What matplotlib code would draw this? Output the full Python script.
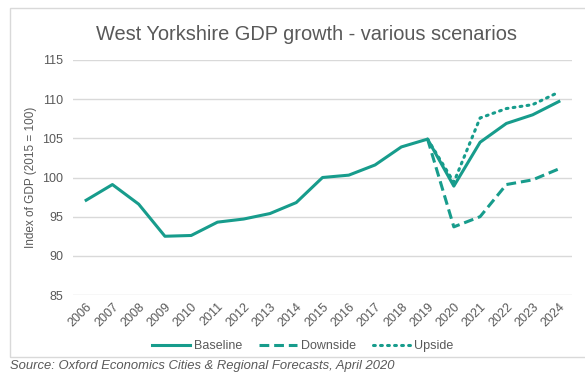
import matplotlib.pyplot as plt
from matplotlib.patches import Rectangle

# GDP index, 2015 = 100
years = [str(y) for y in range(2006, 2025)]
baseline = [97.1, 99.1, 96.6, 92.5, 92.6, 94.3, 94.7, 95.4, 96.8, 100.0,
            100.3, 101.6, 103.9, 104.9, 98.9, 104.5, 106.9, 108.0, 109.7]
scenario_years = years[13:]
downside = [104.9, 93.7, 95.0, 99.1, 99.7, 101.1]
upside = [104.9, 99.4, 107.6, 108.8, 109.3, 110.9]

TEAL = '#179c8c'
GREY = '#595959'

plt.rcParams['font.family'] = ['Liberation Sans', 'DejaVu Sans']

fig = plt.figure(figsize=(5.85, 3.74), dpi=100)
ax = fig.add_axes([0.1248, 0.2112, 0.853, 0.6284])

# frame round the chart area
fig.patches.append(Rectangle((10 / 585, 1 - 357 / 374), 1, 349 / 374,
                             transform=fig.transFigure, fill=False,
                             edgecolor='#d9d9d9', linewidth=1.0))

x = list(range(len(years)))
xs = x[13:]
ax.plot(x, baseline, color=TEAL, lw=2.2, label='Baseline', solid_joinstyle='round')
ax.plot(xs, downside, color=TEAL, lw=2.2, ls=(0, (3.2, 1.6)), label='Downside')
ax.plot(xs, upside, color=TEAL, lw=2.2, ls=(0, (0.6, 1.7)), dash_capstyle='round',
        label='Upside')

ax.set_xlim(-0.5, len(years) - 0.5)
ax.set_ylim(85, 115)
ax.set_yticks(range(85, 116, 5))
ax.set_xticks(x)
ax.set_xticklabels(years, rotation=45, ha='right', va='top', rotation_mode='anchor')
ax.tick_params(axis='both', length=0, colors=GREY, labelsize=9)
ax.tick_params(axis='x', pad=4)
ax.tick_params(axis='y', pad=7)
ax.grid(axis='y', color='#d9d9d9', lw=1.0)
ax.set_axisbelow(True)
for s in ax.spines.values():
    s.set_visible(False)

ax.set_ylabel('Index of GDP (2015 = 100)', color=GREY, fontsize=8.5, labelpad=4)

fig.text(306 / 585, 1 - 35 / 374, 'West Yorkshire GDP growth - various scenarios',
         ha='center', va='center', fontsize=14.4, color=GREY)

ax.legend(loc='center', bbox_to_anchor=(303 / 585, 1 - 346 / 374),
          bbox_transform=fig.transFigure, ncol=3, frameon=False,
          fontsize=9, labelcolor=GREY, handlelength=3.0, handletextpad=0.3,
          columnspacing=1.4)

fig.text(10 / 585, 1 - 366 / 374,
         'Source: Oxford Economics Cities & Regional Forecasts, April 2020',
         ha='left', va='center', fontsize=9.4, style='italic', color=GREY)

fig.savefig('out.png', dpi=100)
